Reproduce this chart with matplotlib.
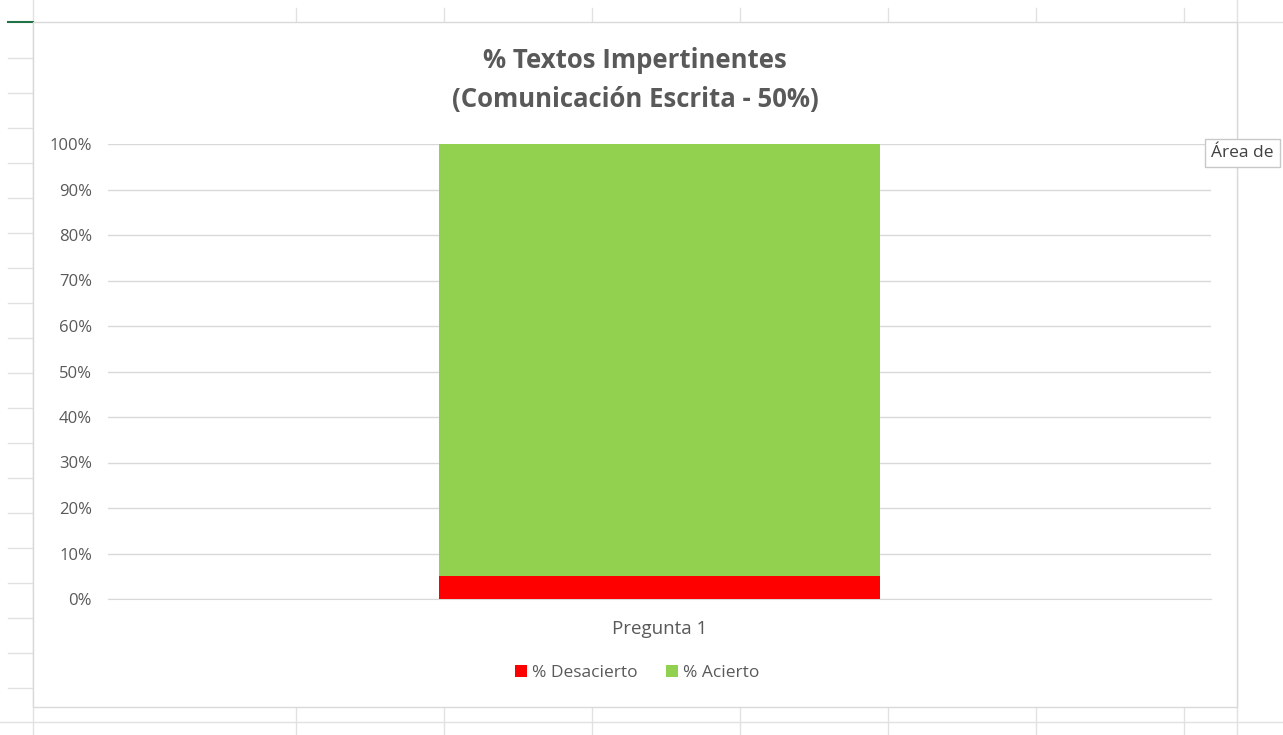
import matplotlib
matplotlib.use("Agg")
import matplotlib.pyplot as plt
from matplotlib.lines import Line2D
from matplotlib.patches import Rectangle

categories = ["Pregunta 1"]
desacierto = [0.05]
acierto = [0.95]
series_names = ["% Desacierto", "% Acierto"]
title_text = "% Textos Impertinentes\n(Comunicación Escrita - 50%)"

W, H = 1283, 735
fig = plt.figure(figsize=(W / 100, H / 100), dpi=100)
fig.patch.set_facecolor("white")
plt.rcParams['font.family'] = ['Open Sans', 'DejaVu Sans']

def fx(x):
    return x / W
def fy(y):
    return 1 - y / H

# spreadsheet background grid (decorative)
grid_c = "#e1e1e1"
Z = -2
for y in [58, 93, 128, 163, 198, 233, 268, 303, 338, 373, 408, 443, 478, 513, 548, 583, 618, 653, 688]:
    fig.add_artist(Line2D([fx(8), fx(33)], [fy(y), fy(y)], color=grid_c, lw=1, zorder=Z))
for x in [296, 444, 592, 740, 888, 1036, 1184]:
    fig.add_artist(Line2D([fx(x), fx(x)], [fy(8), fy(22)], color=grid_c, lw=1, zorder=Z))
    fig.add_artist(Line2D([fx(x), fx(x)], [fy(707), fy(735)], color=grid_c, lw=1, zorder=Z))
fig.add_artist(Line2D([fx(33), fx(33)], [fy(0), fy(735)], color=grid_c, lw=1, zorder=Z))
fig.add_artist(Line2D([fx(0), fx(1283)], [fy(722), fy(722)], color=grid_c, lw=1, zorder=Z))
fig.add_artist(Line2D([fx(1237), fx(1283)], [fy(22), fy(22)], color=grid_c, lw=1, zorder=Z))
fig.add_artist(Line2D([fx(1237), fx(1237)], [fy(0), fy(735)], color=grid_c, lw=1, zorder=Z))
fig.add_artist(Line2D([fx(8), fx(33)], [fy(22), fy(22)], color="#217346", lw=1.5, zorder=Z))
# chart area
fig.add_artist(Rectangle((fx(33), fy(707)), fx(1237) - fx(33), fy(22) - fy(707),
                         fill=True, facecolor="white", edgecolor="#d9d9d9", lw=1, zorder=-1))

ax = fig.add_axes([fx(108), fy(599), fx(1211) - fx(108), fy(144) - fy(599)])
ax.set_facecolor("none")

x = list(range(len(categories)))
ax.bar(x, desacierto, width=0.4, color="#ff0000", label=series_names[0], zorder=3)
ax.bar(x, acierto, width=0.4, bottom=desacierto, color="#92d050", label=series_names[1], zorder=3)

ax.set_xlim(-0.5, 0.5)
ax.set_ylim(0, 1)
ticks = [i / 10 for i in range(11)]
ax.set_yticks(ticks)
ax.set_yticklabels([f"{int(round(t * 100))}%" for t in ticks], color="#595959", fontsize=12)
ax.set_xticks(x)
ax.set_xticklabels(categories, color="#595959", fontsize=13.5)
ax.tick_params(axis="both", length=0)
ax.tick_params(axis="y", pad=11.5)
ax.tick_params(axis="x", pad=15)
ax.yaxis.grid(True, color="#d9d9d9", lw=1, zorder=0)
for s in ["top", "right", "left"]:
    ax.spines[s].set_visible(False)
ax.spines["bottom"].set_color("#d9d9d9")

fig.text(fx(635), fy(80), title_text, ha="center", va="center", fontsize=18.5,
         fontweight="bold", color="#595959", linespacing=1.55)

leg = ax.legend(loc="center", bbox_to_anchor=(fx(637), fy(673)), bbox_transform=fig.transFigure,
                ncol=2, frameon=False, fontsize=12.5, handlelength=0.7, handleheight=0.7,
                handletextpad=0.3, columnspacing=1.6)
for t in leg.get_texts():
    t.set_color("#595959")

# tooltip
fig.text(fx(1211), fy(153), "Área de", ha="left", va="center", fontsize=12.5, color="#404040",
         bbox=dict(boxstyle="square,pad=0.35", facecolor="white", edgecolor="#c8c8c8"))

fig.savefig("out.png", dpi=100)
